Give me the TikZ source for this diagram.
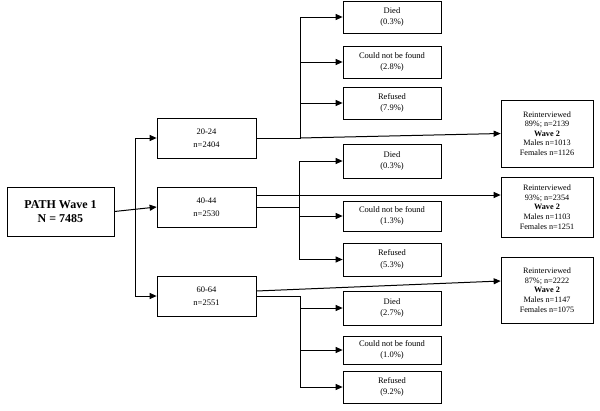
\documentclass[tikz,border=0pt]{standalone}
\usepackage{fontspec}
\setmainfont{Liberation Serif}
\usepackage{tikz}
\usetikzlibrary{positioning, arrows.meta}

\begin{document}
\begin{tikzpicture}[x=1pt, y=-1pt,
  root/.style={draw, line width=0.7pt, minimum width=107pt, minimum height=49pt, align=center, font=\fontsize{12}{13.5}\selectfont\bfseries},
  agebox/.style={draw, line width=0.7pt, minimum width=99pt, minimum height=40pt, align=center, font=\fontsize{8.5}{12.5}\selectfont},
  outbox/.style={draw, line width=0.7pt, minimum width=98pt, minimum height=32pt, align=center, font=\fontsize{8.5}{11.5}\selectfont},
  rebox/.style={draw, line width=0.7pt, minimum width=92pt, minimum height=60pt, align=center, font=\fontsize{8.2}{9.6}\selectfont},
  link/.style={line width=1pt},
  arr/.style={-{Triangle[length=7pt, width=6pt]}, line width=1pt}]
  \useasboundingbox (0,0) rectangle (600,410);
  \node[root] (path) at (60.5,211.5) {PATH Wave 1\\N = 7485};
  \node[agebox] (a20) at (206.5,138) {20-24\\n=2404};
  \node[agebox] (a40) at (206.5,207) {40-44\\n=2530};
  \node[agebox] (a60) at (206.5,296) {60-64\\n=2551};
  \node[outbox] (died1) at (392,17) {Died\\(0.3\%)};
  \node[outbox] (lost1) at (392,62) {Could not be found\\(2.8\%)};
  \node[outbox] (ref1) at (392,103) {Refused\\(7.9\%)};
  \node[outbox, minimum height=34pt] (died2) at (392,161) {Died\\(0.3\%)};
  \node[outbox, minimum height=30pt] (lost2) at (392,216) {Could not be found\\(1.3\%)};
  \node[outbox, minimum height=33pt] (ref2) at (392,259.5) {Refused\\(5.3\%)};
  \node[outbox, minimum height=34pt] (died3) at (392,308) {Died\\(2.7\%)};
  \node[outbox, minimum height=28pt] (lost3) at (392,350) {Could not be found\\(1.0\%)};
  \node[outbox] (ref3) at (392,387) {Refused\\(9.2\%)};
  \node[rebox, minimum height=67pt] (re1) at (547,133.5) {Reinterviewed\\89\%; n=2139\\\textbf{Wave 2}\\Males n=1013\\Females n=1126};
  \node[rebox] (re2) at (547,207) {Reinterviewed\\93\%; n=2354\\\textbf{Wave 2}\\Males n=1103\\Females n=1251};
  \node[rebox, minimum height=66pt] (re3) at (547,290) {Reinterviewed\\87\%; n=2222\\\textbf{Wave 2}\\Males n=1147\\Females n=1075};
  \coordinate (trunk) at (135,0);
  \coordinate (b1) at (300,0);
  \coordinate (b2) at (299,0);
  \coordinate (b3) at (300,0);
  \draw[arr] (path.east) -- (a40.west);
  \draw[link] (trunk |- a20.west) -- (trunk |- a60.west);
  \draw[arr] (trunk |- a20.west) -- (a20.west);
  \draw[arr] (trunk |- a60.west) -- (a60.west);
  \draw[link] (a20.east) -- (b1 |- a20.east) -- (b1 |- died1.west);
  \draw[arr] (b1 |- died1.west) -- (died1.west);
  \draw[arr] (b1 |- lost1.west) -- (lost1.west);
  \draw[arr] (b1 |- ref1.west) -- (ref1.west);
  \draw[arr] (b1 |- a20.east) -- (re1.west);
  \draw[arr] ([yshift=12pt]a40.east) -- ([yshift=12pt]re2.west);
  \draw[link] (a40.east) -- (b2 |- a40.east);
  \draw[link] (b2 |- died2.west) -- (b2 |- ref2.west);
  \draw[arr] (b2 |- died2.west) -- (died2.west);
  \draw[arr] (b2 |- lost2.west) -- (lost2.west);
  \draw[arr] (b2 |- ref2.west) -- (ref2.west);
  \draw[arr] ([yshift=5pt]a60.east) -- ([yshift=9pt]re3.west);
  \draw[link] (a60.east) -- (b3 |- a60.east) -- (b3 |- ref3.west);
  \draw[arr] (b3 |- died3.west) -- (died3.west);
  \draw[arr] (b3 |- lost3.west) -- (lost3.west);
  \draw[arr] (b3 |- ref3.west) -- (ref3.west);
\end{tikzpicture}
\end{document}
